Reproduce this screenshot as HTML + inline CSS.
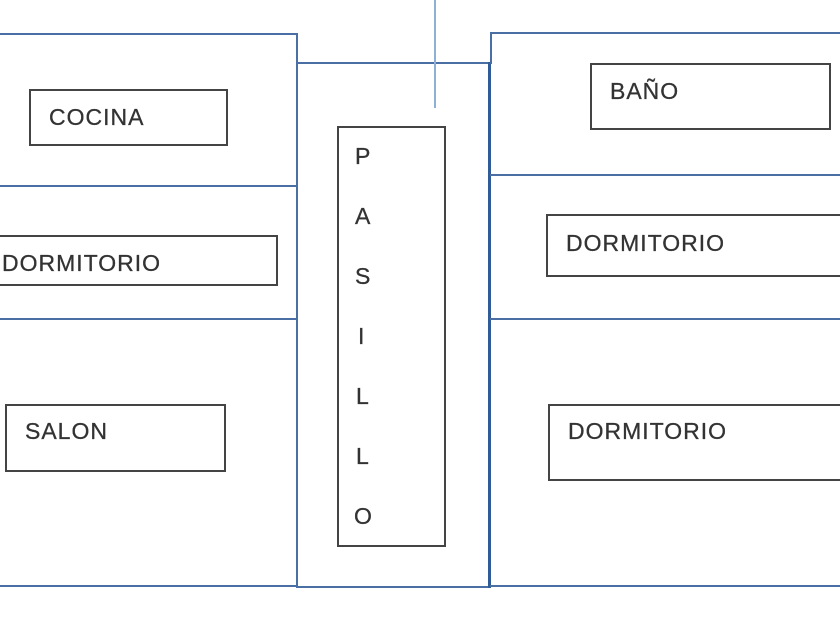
<!DOCTYPE html>
<html><head><style>
body{margin:0;width:840px;height:630px;background:#fff;position:relative;overflow:hidden;font-family:"Liberation Sans",sans-serif;}
.l{position:absolute;background:#4a6fa5;}
.b{position:absolute;border:2px solid #444;box-sizing:border-box;}
.t{position:absolute;font-size:23px;color:#333;line-height:1;letter-spacing:1px;-webkit-text-stroke:0.3px #333;}
</style></head><body>
<div class="l" style="left:0;top:33px;width:297px;height:2px"></div>
<div class="l" style="left:296px;top:33px;width:2px;height:555px"></div>
<div class="l" style="left:0;top:185px;width:297px;height:2px"></div>
<div class="l" style="left:0;top:318px;width:297px;height:2px"></div>
<div class="l" style="left:0;top:585px;width:297px;height:2px"></div>
<div class="l" style="left:297px;top:62px;width:192px;height:2px"></div>
<div class="l" style="left:297px;top:586px;width:192px;height:2px"></div>
<div class="l" style="left:434px;top:0;width:2px;height:108px;background:#8fb0d6"></div>
<div class="l" style="left:488px;top:62px;width:3px;height:526px;background:#2f5b96"></div>
<div class="l" style="left:490px;top:32px;width:2px;height:32px"></div>
<div class="l" style="left:490px;top:32px;width:350px;height:2px"></div>
<div class="l" style="left:490px;top:174px;width:350px;height:2px"></div>
<div class="l" style="left:490px;top:318px;width:350px;height:2px"></div>
<div class="l" style="left:490px;top:585px;width:350px;height:2px"></div>
<div class="b" style="left:29px;top:89px;width:199px;height:57px"></div>
<div class="t" style="left:49px;top:106px">COCINA</div>
<div class="b" style="left:-5px;top:235px;width:283px;height:51px"></div>
<div class="t" style="left:2px;top:252px">DORMITORIO</div>
<div class="b" style="left:5px;top:404px;width:221px;height:68px"></div>
<div class="t" style="left:25px;top:420px">SALON</div>
<div class="b" style="left:337px;top:126px;width:109px;height:421px"></div>
<div class="t" style="left:355px;top:145px">P</div>
<div class="t" style="left:355px;top:205px">A</div>
<div class="t" style="left:355px;top:265px">S</div>
<div class="t" style="left:358px;top:325px">I</div>
<div class="t" style="left:356px;top:385px">L</div>
<div class="t" style="left:356px;top:445px">L</div>
<div class="t" style="left:354px;top:505px">O</div>
<div class="b" style="left:590px;top:63px;width:241px;height:67px"></div>
<div class="t" style="left:610px;top:80px">BAÑO</div>
<div class="b" style="left:546px;top:214px;width:300px;height:63px"></div>
<div class="t" style="left:566px;top:232px">DORMITORIO</div>
<div class="b" style="left:548px;top:404px;width:300px;height:77px"></div>
<div class="t" style="left:568px;top:420px">DORMITORIO</div>
</body></html>
